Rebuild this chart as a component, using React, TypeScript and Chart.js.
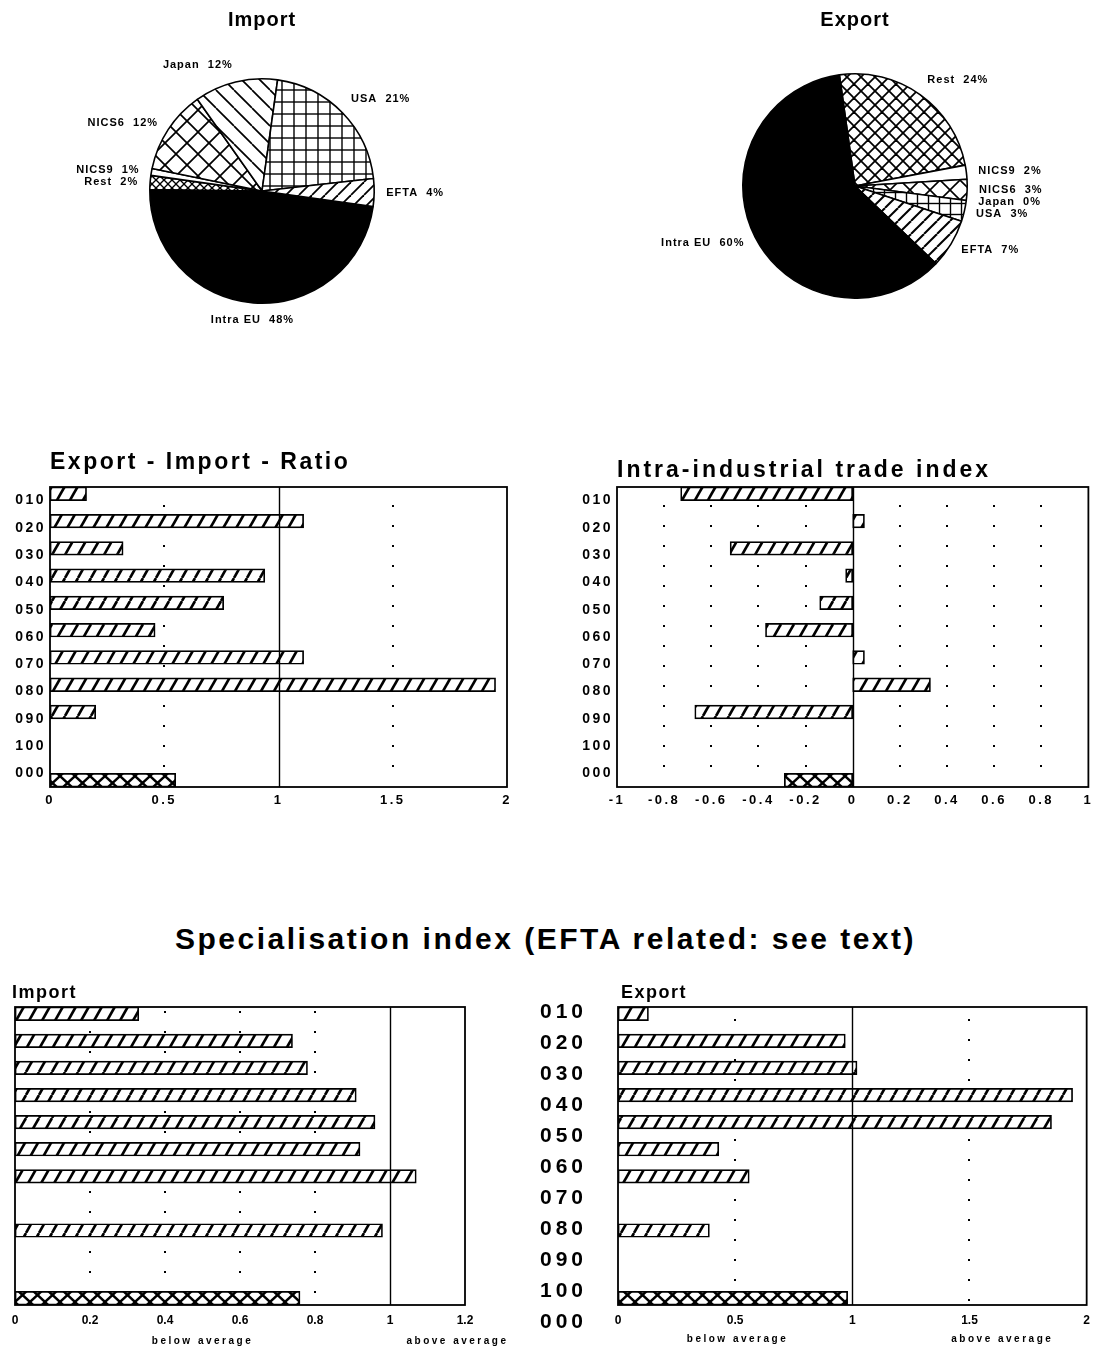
import React, { useEffect, useRef } from 'react';
import { Chart, registerables } from 'chart.js';

Chart.register(...registerables);

const FONT = '"Liberation Sans", Arial, Helvetica, sans-serif';

// ---------- data ----------
const importRegions = ['Intra EU', 'Rest', 'NICS9', 'NICS6', 'Japan', 'USA', 'EFTA'];
const importShares = [48, 2, 1, 12, 12, 21, 4];

const exportRegions = ['Rest', 'NICS9', 'NICS6', 'Japan', 'USA', 'EFTA', 'Intra EU'];
const exportShares = [24, 2, 3, 0, 3, 7, 60];

const productGroups = ['010', '020', '030', '040', '050', '060', '070', '080', '090', '100', '000'];

const ratioGroups = [0.16, 1.11, 0.32, 0.94, 0.76, 0.46, 1.11, 1.95, 0.2, null, null];
const ratioTotal = [null, null, null, null, null, null, null, null, null, null, 0.55];

const intraGroups = [-0.73, 0.05, -0.52, -0.03, -0.14, -0.37, 0.05, 0.33, -0.67, null, null];
const intraTotal = [null, null, null, null, null, null, null, null, null, null, -0.29];

const specImportGroups = [0.33, 0.74, 0.78, 0.91, 0.96, 0.92, 1.07, 0, 0.98, 0, null];
const specImportTotal = [null, null, null, null, null, null, null, null, null, null, 0.76];

const specExportGroups = [0.13, 0.97, 1.02, 1.94, 1.85, 0.43, 0.56, 0, 0.39, 0, null];
const specExportTotal = [null, null, null, null, null, null, null, null, null, null, 0.98];

const ratioRange = { min: 0, max: 2, step: 0.5, dotted: [0.5, 1.5], solid: [1] };
const intraRange = { min: -1, max: 1, step: 0.2, dotted: [-0.8, -0.6, -0.4, -0.2, 0.2, 0.4, 0.6, 0.8], solid: [0] };
const specImportRange = { min: 0, max: 1.2, step: 0.2, dotted: [0.2, 0.4, 0.6, 0.8], solid: [1] };
const specExportRange = { min: 0, max: 2, step: 0.5, dotted: [0.5, 1.5], solid: [1] };

// ---------- helpers ----------
function makePattern(kind: string, w: number, h: number, lw: number): any {
  const c = document.createElement('canvas');
  c.width = w;
  c.height = h;
  const g = c.getContext('2d') as CanvasRenderingContext2D;
  g.fillStyle = '#fff';
  g.fillRect(0, 0, w, h);
  g.strokeStyle = '#000';
  g.lineWidth = lw;
  const line = (x1: number, y1: number, x2: number, y2: number) => {
    g.beginPath();
    g.moveTo(x1, y1);
    g.lineTo(x2, y2);
    g.stroke();
  };
  if (kind === 'fwd' || kind === 'cross') {
    for (let k = -1; k <= 1; k++) line(k * w, h, k * w + w, 0);
  }
  if (kind === 'back' || kind === 'cross') {
    for (let k = -1; k <= 1; k++) line(k * w, 0, k * w + w, h);
  }
  if (kind === 'grid') {
    line(w / 2, 0, w / 2, h);
    line(0, h / 2, w, h / 2);
  }
  return g.createPattern(c, 'repeat');
}

const fmt = (v: any) => String(Math.round(Number(v) * 10) / 10);

function pieLabelsPlugin() {
  return {
    id: 'pieLabels',
    afterDatasetsDraw(chart: any) {
      const ctx = chart.ctx;
      const meta = chart.getDatasetMeta(0);
      const vals = chart.data.datasets[0].data;
      ctx.save();
      ctx.font = `bold 11px ${FONT}`;
      (ctx as any).letterSpacing = '1px';
      ctx.fillStyle = '#000';
      meta.data.forEach((arc: any, i: number) => {
        const p = arc.getProps(['x', 'y', 'startAngle', 'endAngle', 'outerRadius'], true);
        const mid = (p.startAngle + p.endAngle) / 2;
        const r = p.outerRadius + 12;
        const cx = Math.cos(mid);
        const sy = Math.sin(mid);
        ctx.textAlign = cx > 0.15 ? 'left' : cx < -0.15 ? 'right' : 'center';
        ctx.textBaseline = sy > 0.6 ? 'top' : sy < -0.6 ? 'bottom' : 'middle';
        ctx.fillText(`${chart.data.labels[i]}  ${vals[i]}%`, p.x + r * cx, p.y + r * sy);
      });
      ctx.restore();
    },
  };
}

type Note = {
  text: string;
  css: string;
  spacing?: string;
  align?: CanvasTextAlign;
  at?: 'left' | 'center' | 'value';
  value?: number;
  dx?: number;
  dy?: number;
  from?: 'top' | 'bottom';
};

function notesPlugin(notes: Note[], column?: { dx: number; dy: number; step: number; css: string; spacing: string }) {
  return {
    id: 'notes',
    afterDraw(chart: any) {
      const { ctx, chartArea: a } = chart;
      notes.forEach((t) => {
        ctx.save();
        ctx.font = t.css;
        (ctx as any).letterSpacing = t.spacing || '0px';
        ctx.fillStyle = '#000';
        ctx.textAlign = t.align || 'left';
        ctx.textBaseline = 'middle';
        let x = a.left;
        if (t.at === 'center') x = (a.left + a.right) / 2;
        if (t.at === 'value') x = chart.scales.x.getPixelForValue(t.value);
        x += t.dx || 0;
        const y = (t.from === 'bottom' ? a.bottom : a.top) + (t.dy || 0);
        ctx.fillText(t.text, x, y);
        ctx.restore();
      });
      if (column) {
        ctx.save();
        ctx.font = column.css;
        (ctx as any).letterSpacing = column.spacing;
        ctx.fillStyle = '#000';
        ctx.textAlign = 'right';
        ctx.textBaseline = 'middle';
        chart.data.labels.forEach((lab: string, i: number) => {
          ctx.fillText(lab, a.left + column.dx, a.top + column.dy + i * column.step);
        });
        ctx.restore();
      }
    },
  };
}

function gridPlugin(range: any, dotStart: number, dotGap: number, ySpacing: string, xSpacing: string) {
  return {
    id: 'refGrid',
    beforeDraw(chart: any) {
      (chart.ctx as any).letterSpacing = ySpacing;
    },
    beforeDatasetsDraw(chart: any) {
      const { ctx, chartArea: a } = chart;
      const xs = chart.scales.x;
      ctx.save();
      ctx.fillStyle = '#000';
      range.dotted.forEach((v: number) => {
        const px = Math.round(xs.getPixelForValue(v));
        for (let y = a.top + dotStart; y < a.bottom - 2; y += dotGap) ctx.fillRect(px - 1, y, 2, 2);
      });
      ctx.restore();
    },
    afterDatasetsDraw(chart: any) {
      const { ctx, chartArea: a } = chart;
      const xs = chart.scales.x;
      ctx.save();
      ctx.strokeStyle = '#000';
      ctx.lineWidth = 1.4;
      range.solid.forEach((v: number) => {
        const px = Math.round(xs.getPixelForValue(v)) + 0.5;
        ctx.beginPath();
        ctx.moveTo(px, a.top);
        ctx.lineTo(px, a.bottom);
        ctx.stroke();
      });
      ctx.lineWidth = 1.8;
      ctx.strokeRect(a.left, a.top, a.right - a.left, a.bottom - a.top);
      ctx.restore();
      (ctx as any).letterSpacing = xSpacing;
    },
  };
}

function barConfig(opts: {
  groups: any[];
  total: any[];
  range: any;
  padding: any;
  showY: boolean;
  yWidth: number;
  xHeight: number;
  tickSize: number;
  tickPad: number;
  hatch: any;
  cross: any;
  plugins: any[];
}): any {
  const ds = (data: any[], fill: any) => ({
    data,
    backgroundColor: fill,
    borderColor: '#000',
    borderWidth: 1.7,
    borderSkipped: false,
    categoryPercentage: 1,
    barPercentage: 1,
  });
  return {
    type: 'bar',
    data: {
      labels: productGroups,
      datasets: [ds(opts.groups, opts.hatch), ds(opts.total, opts.cross)],
    },
    options: {
      responsive: false,
      animation: false,
      indexAxis: 'y',
      events: [],
      layout: { padding: opts.padding, autoPadding: false },
      plugins: { legend: { display: false }, tooltip: { enabled: false }, title: { display: false } },
      scales: {
        y: {
          type: 'category',
          display: opts.showY,
          offset: true,
          grid: { display: false, drawTicks: false },
          border: { display: false },
          ticks: { color: '#000', font: { family: FONT, size: 14, weight: 'bold' }, padding: 4, autoSkip: false },
          afterFit: (s: any) => {
            s.width = opts.yWidth;
          },
        },
        x: {
          type: 'linear',
          min: opts.range.min,
          max: opts.range.max,
          z: 1,
          grid: { display: false, drawTicks: false },
          border: { display: false },
          ticks: {
            stepSize: opts.range.step,
            color: '#000',
            font: { family: FONT, size: opts.tickSize, weight: 'bold' },
            padding: opts.tickPad,
            maxRotation: 0,
            autoSkip: false,
            callback: fmt,
          },
          afterFit: (s: any) => {
            s.height = opts.xHeight;
          },
        },
      },
    },
    plugins: opts.plugins,
  };
}

export default function App() {
  const pieImp = useRef<HTMLCanvasElement>(null);
  const pieExp = useRef<HTMLCanvasElement>(null);
  const ratio = useRef<HTMLCanvasElement>(null);
  const intra = useRef<HTMLCanvasElement>(null);
  const specImp = useRef<HTMLCanvasElement>(null);
  const specExp = useRef<HTMLCanvasElement>(null);

  useEffect(() => {
    const charts: Chart[] = [];

    const importFill: Record<string, any> = {
      'Intra EU': '#000',
      Rest: makePattern('cross', 8, 8, 1.3),
      NICS9: '#fff',
      NICS6: makePattern('cross', 22, 22, 1.7),
      Japan: makePattern('back', 18, 18, 1.7),
      USA: makePattern('grid', 12, 12, 1.4),
      EFTA: makePattern('fwd', 13, 13, 1.8),
    };
    const exportFill: Record<string, any> = {
      Rest: makePattern('cross', 14, 14, 1.8),
      NICS9: '#fff',
      NICS6: makePattern('cross', 20, 20, 1.6),
      Japan: '#fff',
      USA: makePattern('grid', 11, 11, 1.4),
      EFTA: makePattern('fwd', 13, 13, 2),
      'Intra EU': '#000',
    };

    const pieCfg = (labels: string[], data: number[], fills: Record<string, any>, rotation: number, padding: any, title: string, titleDy: number): any => ({
      type: 'pie',
      data: {
        labels,
        datasets: [
          {
            data,
            backgroundColor: labels.map((l) => fills[l]),
            borderColor: '#000',
            borderWidth: 1.6,
          },
        ],
      },
      options: {
        responsive: false,
        animation: false,
        events: [],
        rotation,
        layout: { padding },
        plugins: { legend: { display: false }, tooltip: { enabled: false } },
      },
      plugins: [
        pieLabelsPlugin(),
        notesPlugin([{ text: title, css: `bold 20px ${FONT}`, spacing: '1px', align: 'center', at: 'center', dy: titleDy }]),
      ],
    });

    if (pieImp.current)
      charts.push(
        new Chart(pieImp.current, pieCfg(importRegions, importShares, importFill, 98, { left: 149, top: 78, right: 165, bottom: 56 }, 'Import', -58))
      );
    if (pieExp.current)
      charts.push(
        new Chart(pieExp.current, pieCfg(exportRegions, exportShares, exportFill, 352, { left: 182, top: 73, right: 130, bottom: 31 }, 'Export', -53))
      );

    const hatch = makePattern('fwd', 13, 23, 2.6);
    const cross = makePattern('cross', 15, 14, 2.4);

    if (ratio.current)
      charts.push(
        new Chart(
          ratio.current,
          barConfig({
            groups: ratioGroups,
            total: ratioTotal,
            range: ratioRange,
            padding: { left: 0, right: 13, top: 47, bottom: 0 },
            showY: true,
            yWidth: 50,
            xHeight: 33,
            tickSize: 13,
            tickPad: 6,
            hatch,
            cross,
            plugins: [
              gridPlugin(ratioRange, 18, 20, '2.5px', '1.5px'),
              notesPlugin([{ text: 'Export - Import - Ratio', css: `bold 23px ${FONT}`, spacing: '2.5px', dy: -24 }]),
            ],
          })
        )
      );

    if (intra.current)
      charts.push(
        new Chart(
          intra.current,
          barConfig({
            groups: intraGroups,
            total: intraTotal,
            range: intraRange,
            padding: { left: 0, right: 6, top: 47, bottom: 0 },
            showY: true,
            yWidth: 57,
            xHeight: 33,
            tickSize: 13,
            tickPad: 6,
            hatch,
            cross,
            plugins: [
              gridPlugin(intraRange, 18, 20, '2.5px', '1.5px'),
              notesPlugin([{ text: 'Intra-industrial trade index', css: `bold 23px ${FONT}`, spacing: '3px', dy: -16 }]),
            ],
          })
        )
      );

    if (specImp.current)
      charts.push(
        new Chart(
          specImp.current,
          barConfig({
            groups: specImportGroups,
            total: specImportTotal,
            range: specImportRange,
            padding: { left: 15, right: 75, top: 27, bottom: 0 },
            showY: false,
            yWidth: 0,
            xHeight: 43,
            tickSize: 12,
            tickPad: 8,
            hatch,
            cross,
            plugins: [
              gridPlugin(specImportRange, 4, 20, '0px', '1.5px'),
              notesPlugin([
                { text: 'Import', css: `bold 18px ${FONT}`, spacing: '1.5px', dx: -3, dy: -14 },
                { text: 'below average', css: `bold 10px ${FONT}`, spacing: '2.5px', align: 'center', at: 'value', value: 0.5, from: 'bottom', dy: 36 },
                { text: 'above average', css: `bold 10px ${FONT}`, spacing: '2.5px', align: 'center', at: 'value', value: 1.18, from: 'bottom', dy: 36 },
              ]),
            ],
          })
        )
      );

    if (specExp.current)
      charts.push(
        new Chart(
          specExp.current,
          barConfig({
            groups: specExportGroups,
            total: specExportTotal,
            range: specExportRange,
            padding: { left: 88, right: 2, top: 27, bottom: 0 },
            showY: false,
            yWidth: 0,
            xHeight: 43,
            tickSize: 12,
            tickPad: 8,
            hatch,
            cross,
            plugins: [
              gridPlugin(specExportRange, 12, 20, '0px', '1.5px'),
              notesPlugin(
                [
                  { text: 'Export', css: `bold 18px ${FONT}`, spacing: '1.5px', dx: 3, dy: -14 },
                  { text: 'below average', css: `bold 10px ${FONT}`, spacing: '2.5px', align: 'center', at: 'value', value: 0.51, from: 'bottom', dy: 34 },
                  { text: 'above average', css: `bold 10px ${FONT}`, spacing: '2.5px', align: 'center', at: 'value', value: 1.64, from: 'bottom', dy: 34 },
                ],
                { dx: -31, dy: 5, step: 31, css: `bold 21px ${FONT}`, spacing: '4px' }
              ),
            ],
          })
        )
      );

    return () => {
      charts.forEach((c) => c.destroy());
    };
  }, []);

  const abs = (left: number, top: number, width: number, height: number): React.CSSProperties => ({
    position: 'absolute',
    left,
    top,
    width,
    height,
  });

  return (
    <div style={{ position: 'absolute', left: 0, top: 0, width: 1098, height: 1348, background: '#fff', overflow: 'hidden' }}>
      <canvas ref={pieImp} width={540} height={360} style={abs(0, 0, 540, 360)} />
      <canvas ref={pieExp} width={538} height={330} style={abs(560, 0, 538, 330)} />
      <canvas ref={ratio} width={520} height={380} style={abs(0, 440, 520, 380)} />
      <canvas ref={intra} width={538} height={380} style={abs(560, 440, 538, 380)} />
      <div
        style={{
          position: 'absolute',
          left: 175,
          top: 922,
          whiteSpace: 'nowrap',
          font: `bold 30px ${FONT}`,
          letterSpacing: '2.5px',
          lineHeight: '34px',
          color: '#000',
        }}
      >
        Specialisation index (EFTA related: see text)
      </div>
      <canvas ref={specImp} width={540} height={368} style={abs(0, 980, 540, 368)} />
      <canvas ref={specExp} width={568} height={368} style={abs(530, 980, 568, 368)} />
    </div>
  );
}
